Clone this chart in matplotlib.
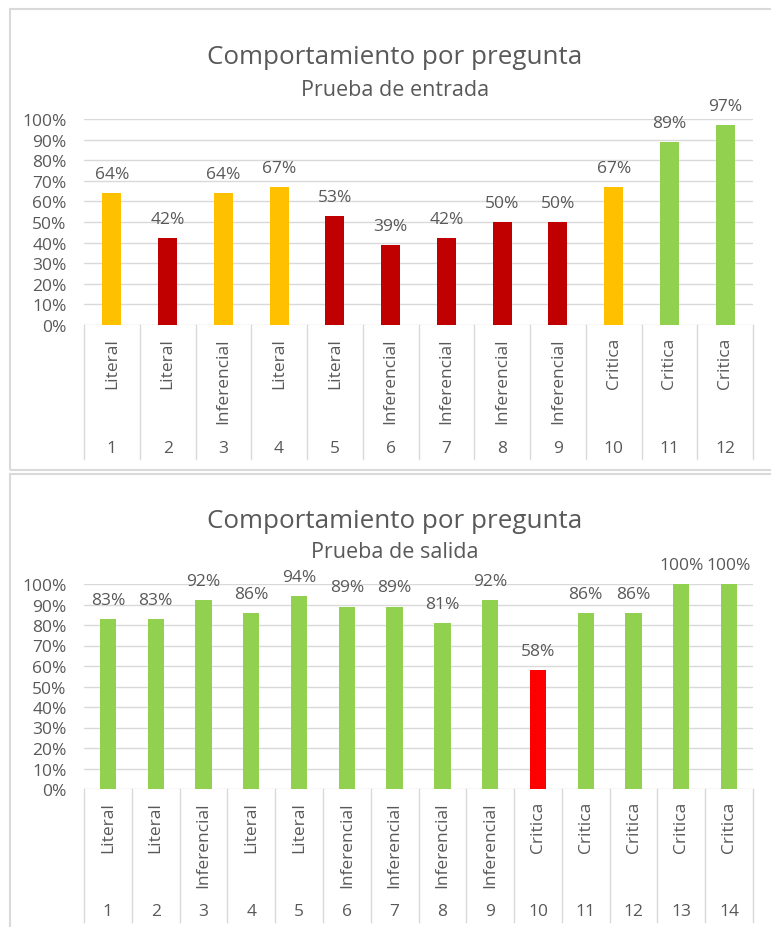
import matplotlib.pyplot as plt
from matplotlib.patches import Rectangle
from matplotlib.ticker import PercentFormatter
import matplotlib.transforms as mtransforms

plt.rcParams['font.family'] = ['Open Sans', 'DejaVu Sans']

GREY_TXT = '#595959'
GRID = '#D9D9D9'
ORANGE = '#FFC000'
DARKRED = '#C00000'
GREEN = '#92D050'
RED = '#FF0000'

# Prueba de entrada
entrada_preg = [str(i) for i in range(1, 13)]
entrada_tipo = ['Literal', 'Literal', 'Inferencial', 'Literal', 'Literal', 'Inferencial',
                'Inferencial', 'Inferencial', 'Inferencial', 'Critica', 'Critica', 'Critica']
entrada_pct = [64, 42, 64, 67, 53, 39, 42, 50, 50, 67, 89, 97]
entrada_col = [ORANGE, DARKRED, ORANGE, ORANGE, DARKRED, DARKRED,
               DARKRED, DARKRED, DARKRED, ORANGE, GREEN, GREEN]

# Prueba de salida
salida_preg = [str(i) for i in range(1, 15)]
salida_tipo = ['Literal', 'Literal', 'Inferencial', 'Literal', 'Literal', 'Inferencial',
               'Inferencial', 'Inferencial', 'Inferencial', 'Critica', 'Critica', 'Critica',
               'Critica', 'Critica']
salida_pct = [83, 83, 92, 86, 94, 89, 89, 81, 92, 58, 86, 86, 100, 100]
salida_col = [GREEN] * 9 + [RED] + [GREEN] * 4

W, H = 771, 928
FS = 12.5
fig = plt.figure(figsize=(W / 100, H / 100), dpi=100)


def px_box(x0, y0, x1, y1):
    # pixel box (top-left origin) -> figure fraction [left, bottom, width, height]
    return [x0 / W, 1 - y1 / H, (x1 - x0) / W, (y1 - y0) / H]


def panel(frame, axbox, table_bottom, title_y, sub_y, subtitle, preg, tipo, pct, cols):
    fx0, fy0, fx1, fy1 = frame
    fig.patches.append(Rectangle((fx0 / W, 1 - fy1 / H), (fx1 - fx0) / W, (fy1 - fy0) / H,
                                 transform=fig.transFigure, fill=False,
                                 edgecolor=GRID, linewidth=1.5))
    fig.text(0.512, 1 - title_y / H, 'Comportamiento por pregunta', ha='center', va='center',
             fontsize=18.7, color=GREY_TXT)
    fig.text(0.512, 1 - sub_y / H, subtitle, ha='center', va='center',
             fontsize=15.5, color=GREY_TXT)

    ax = fig.add_axes(px_box(*axbox))
    n = len(pct)
    x = list(range(n))
    vals = [v / 100 for v in pct]
    ax.bar(x, vals, width=0.34, color=cols, zorder=3)
    for xi, v, p in zip(x, vals, pct):
        ax.annotate(f'{p}%', (xi, v), xytext=(0, 8), textcoords='offset points',
                    ha='center', va='bottom', fontsize=FS, color=GREY_TXT)

    ax.set_xlim(-0.5, n - 0.5)
    ax.set_ylim(0, 1)
    ax.set_yticks([i / 10 for i in range(11)])
    ax.yaxis.set_major_formatter(PercentFormatter(1.0, decimals=0))
    ax.tick_params(axis='y', length=0, labelsize=FS, labelcolor=GREY_TXT, pad=12.5)
    ax.set_xticks([])
    ax.grid(axis='y', color=GRID, linewidth=1, zorder=0)
    for s in ax.spines.values():
        s.set_visible(False)

    # category table under the bars
    ax_h = axbox[3] - axbox[1]
    depth = (table_bottom - axbox[3]) / ax_h
    trans = mtransforms.blended_transform_factory(ax.transData, ax.transAxes)
    for b in range(n + 1):
        ax.plot([b - 0.5, b - 0.5], [0, -depth], transform=trans, color=GRID,
                linewidth=1, clip_on=False)
    for xi, t, q in zip(x, tipo, preg):
        ax.text(xi, -12 / ax_h, t, transform=trans, rotation=90, ha='center', va='top',
                fontsize=FS, color=GREY_TXT)
        ax.text(xi, -(depth - 11 / ax_h), q, transform=trans, ha='center', va='center',
                fontsize=FS, color=GREY_TXT)
    return ax


panel((10, 10, 790, 471), (84, 120, 753, 326), 460, 58, 90, 'Prueba de entrada',
      entrada_preg, entrada_tipo, entrada_pct, entrada_col)
panel((10, 475, 790, 940), (84, 585, 753, 790), 923, 521, 553, 'Prueba de salida',
      salida_preg, salida_tipo, salida_pct, salida_col)

fig.savefig('out.png', dpi=100)
